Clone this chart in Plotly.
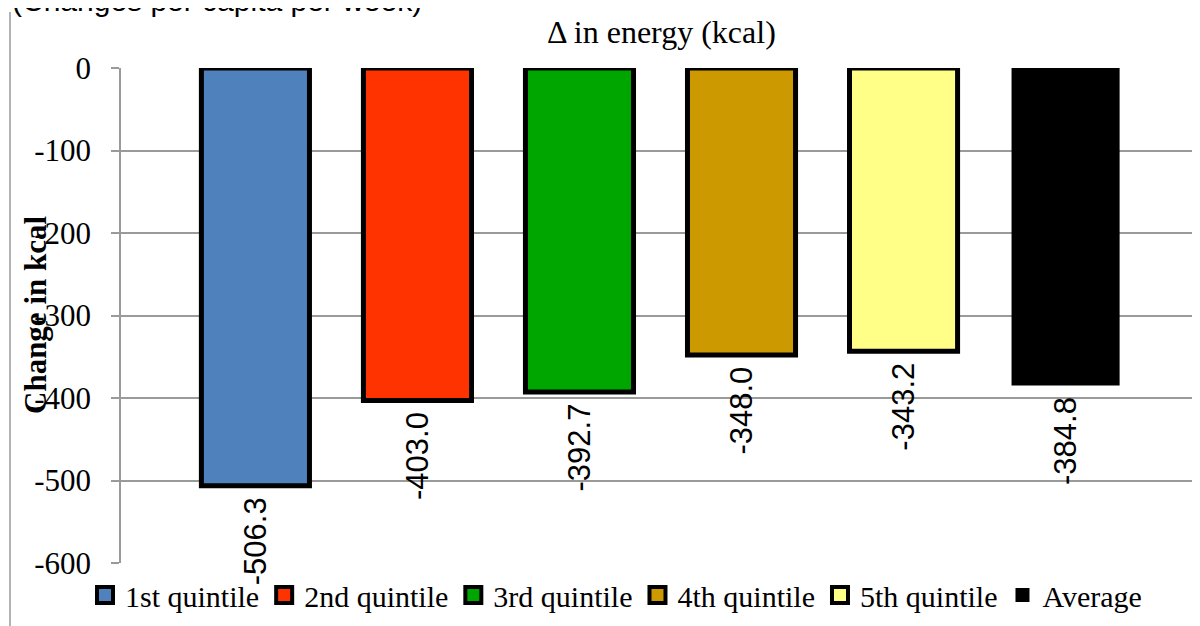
import plotly.graph_objects as go

series = ["1st quintile", "2nd quintile", "3rd quintile", "4th quintile", "5th quintile", "Average"]
values = [-506.3, -403.0, -392.7, -348.0, -343.2, -384.8]
colors = ["#4F81BD", "#FF3300", "#00A600", "#CC9900", "#FFFF88", "#000000"]
border_widths = [5, 5, 5, 5, 5, 0]
category = ["Δ in energy (kcal)"]
y_ticks = [0, -100, -200, -300, -400, -500, -600]

SERIF = "Liberation Serif"
SANS = "Liberation Sans"

fig = go.Figure()
for name, v, c, bw in zip(series, values, colors, border_widths):
    fig.add_trace(go.Bar(
        name=name, x=category, y=[v], showlegend=False, legendgroup=name,
        marker=dict(color=c, line=dict(color="#000000", width=bw)),
        texttemplate="%{y:.1f}\u00a0", textposition="outside", textangle=-90,
        textfont=dict(family=SANS, size=31, color="#000000"),
        cliponaxis=False,
    ))
# legend entries with larger bordered square swatches
for name, c, bw in zip(series, colors, border_widths):
    fig.add_trace(go.Scatter(
        name=name, x=[None], y=[None], mode="markers", legendgroup=name,
        marker=dict(symbol="square", color=c, size=16 if bw else 14,
                    line=dict(color="#000000", width=4 if bw else 0)),
    ))

# page body adds an 8px offset; figure is sized to compensate
W, H = 1192, 618
L, R, T, B = 113, 0, 60, 63
pw, ph = W - L - R, H - T - B

def px(x):
    return (x - L) / pw

def py(y):
    return 1 - (y - T) / ph

fig.update_layout(
    width=W, height=H,
    margin=dict(l=L, r=R, t=T, b=B, autoexpand=False),
    paper_bgcolor="white", plot_bgcolor="white",
    barmode="group", bargap=0.099, bargroupgap=0.333,
    font=dict(family=SERIF, size=30, color="#000000"),
    showlegend=True,
    legend=dict(orientation="h", x=px(608), xanchor="center",
                y=py(587), yanchor="middle",
                font=dict(family=SERIF, size=30),
                itemwidth=30, tracegroupgap=0, bgcolor="rgba(0,0,0,0)"),
    xaxis=dict(showticklabels=False, showgrid=False, zeroline=False, showline=False,
               range=[-0.5, 0.5]),
    yaxis=dict(range=[-600, 0], tickvals=y_ticks, ticktext=[str(t) for t in y_ticks],
               showgrid=True, gridcolor="#9A9A9A", gridwidth=1.5,
               zeroline=False, showline=True, linecolor="#9A9A9A", linewidth=1.5,
               ticks="outside", ticklen=8, tickcolor="#9A9A9A", tickwidth=1.5,
               ticklabelstandoff=14,
               tickfont=dict(family=SERIF, size=31)),
)

# chart title over the single category
fig.add_annotation(text="Δ in energy (kcal)", xref="paper", yref="paper",
                   x=px(653), y=py(24), xanchor="center", yanchor="middle",
                   showarrow=False, font=dict(family=SERIF, size=32))
# y-axis title
fig.add_annotation(text="<b>Change in kcal</b>", xref="paper", yref="paper",
                   x=px(27), y=py(307), xanchor="center", yanchor="middle",
                   textangle=-90, showarrow=False,
                   font=dict(family=SERIF, size=31))
# clipped header text at very top
fig.add_annotation(text="(Changes per capita per week)", xref="paper", yref="paper",
                   x=px(2), y=py(11), xanchor="left", yanchor="bottom",
                   showarrow=False, font=dict(family=SANS, size=30))
# left border line of the chart frame
fig.add_shape(type="line", xref="paper", yref="paper",
              x0=px(2), x1=px(2), y0=py(4), y1=py(H),
              line=dict(color="#9A9A9A", width=1.5))

fig.write_html("out.html")
